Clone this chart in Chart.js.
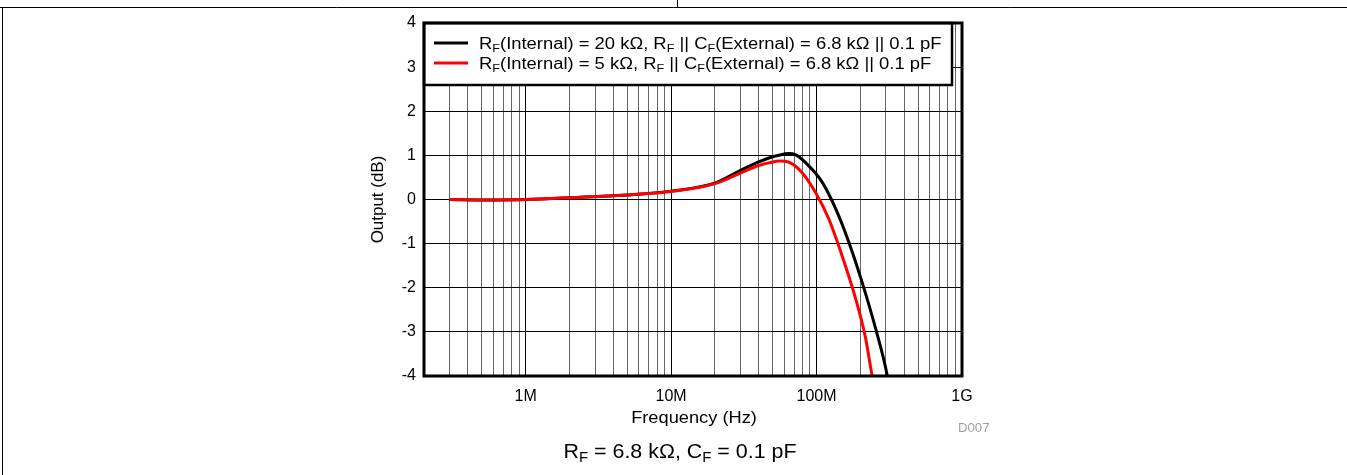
<!DOCTYPE html>
<html lang="en">
<head>
<meta charset="UTF-8">
<script src="https://cdn.jsdelivr.net/npm/chart.js"></script>
<style>
body { margin: 0; background: #fff; }
#wrap { width: 1347px; height: 475px; }
</style>
</head>
<body>
<div id="wrap"><canvas id="chart" width="1347" height="475"></canvas></div>
<script>
// values (frequency in Hz, output in dB)
const freq20k = [3e5, 5.5e5, 1e6, 2e6, 6e6, 1e7, 2e7, 3e7, 4e7, 4.7e7, 5.6e7, 6.4e7, 7.2e7, 8.8e7, 1.09e8, 1.35e8, 1.66e8, 2.05e8, 2.54e8, 3.05e8, 3.1e8];
const db20k   = [0.00, -0.01, 0.00, 0.04, 0.12, 0.19, 0.37, 0.66, 0.85, 0.94, 1.01, 1.04, 1.01, 0.77, 0.40, -0.20, -0.95, -1.86, -2.91, -3.96, -4.1];
const freq5k  = [3e5, 5.5e5, 1e6, 2e6, 6e6, 1e7, 2e7, 3e7, 4e7, 4.7e7, 5.6e7, 6.4e7, 7.9e7, 9.8e7, 1.21e8, 1.49e8, 1.85e8, 2.17e8, 2.4e8, 2.45e8];
const db5k    = [0.00, -0.01, 0.00, 0.04, 0.12, 0.18, 0.36, 0.60, 0.77, 0.83, 0.87, 0.85, 0.62, 0.17, -0.43, -1.25, -2.23, -3.13, -3.96, -4.1];

const decadeValues = [1e6, 1e7, 1e8, 1e9];
const xTickLabels = ['1M', '10M', '100M', '1G'];
const yTicks = [-4, -3, -2, -1, 0, 1, 2, 3, 4];

const legendRows = [
    { color: '#000000', parts: [['R'], ['F', 1], ['(Internal) = 20 k\u03A9, R'], ['F', 1], [' || C'], ['F', 1], ['(External) = 6.8 k\u03A9 || 0.1 pF']] },
    { color: '#ff0000', parts: [['R'], ['F', 1], ['(Internal) = 5 k\u03A9, R'], ['F', 1], [' || C'], ['F', 1], ['(External) = 6.8 k\u03A9 || 0.1 pF']] }
];
const caption = [['R'], ['F', 1], [' = 6.8 k\u03A9, C'], ['F', 1], [' = 0.1 pF']];

const FONT = '"Liberation Sans", Arial, sans-serif';

function toPoints(xs, ys) {
    return xs.map((x, i) => ({ x: x, y: ys[i] }));
}

// text with subscripts, drawn left to right, sx stretches it sideways
function richWidth(ctx, parts, size, subSize) {
    let w = 0;
    parts.forEach(p => {
        ctx.font = (p[1] ? subSize : size) + 'px ' + FONT;
        w += ctx.measureText(p[0]).width;
    });
    return w;
}
function drawRich(ctx, parts, x, y, size, subSize, subDrop, sx) {
    ctx.save();
    ctx.translate(x, y);
    ctx.scale(sx, 1);
    ctx.textAlign = 'left';
    ctx.textBaseline = 'alphabetic';
    let cx = 0;
    parts.forEach(p => {
        ctx.font = (p[1] ? subSize : size) + 'px ' + FONT;
        ctx.fillText(p[0], cx, p[1] ? subDrop : 0);
        cx += ctx.measureText(p[0]).width;
    });
    ctx.restore();
}

const decor = {
    id: 'decor',
    beforeDraw(chart) {
        const ctx = chart.ctx;
        ctx.save();
        ctx.fillStyle = '#fff';
        ctx.fillRect(0, 0, chart.width, chart.height);
        // page frame
        ctx.strokeStyle = '#000';
        ctx.lineWidth = 1;
        ctx.beginPath();
        ctx.moveTo(0, 7.5); ctx.lineTo(chart.width, 7.5);
        ctx.moveTo(677.5, 0); ctx.lineTo(677.5, 7);
        ctx.moveTo(2.5, 7); ctx.lineTo(2.5, chart.height);
        ctx.stroke();
        ctx.restore();
    },
    afterDatasetsDraw(chart) {
        const ctx = chart.ctx;
        const a = chart.chartArea;
        ctx.save();
        // legend box inside the plot
        const lx = a.left, ly = a.top, lw = 952 - a.left, lh = 62;
        ctx.fillStyle = '#fff';
        ctx.fillRect(lx, ly, lw, lh);
        ctx.strokeStyle = '#000';
        ctx.lineWidth = 2.5;
        ctx.strokeRect(lx, ly, lw, lh);
        legendRows.forEach((row, i) => {
            const cy = ly + 20 + i * 20;
            ctx.strokeStyle = row.color;
            ctx.lineWidth = 3;
            ctx.beginPath();
            ctx.moveTo(lx + 10, cy);
            ctx.lineTo(lx + 44, cy);
            ctx.stroke();
            ctx.fillStyle = '#000';
            drawRich(ctx, row.parts, lx + 55, cy + 6, 16, 11, 3, 1.15);
        });
        // plot frame
        ctx.strokeStyle = '#000';
        ctx.lineWidth = 3;
        ctx.strokeRect(a.left, a.top, a.right - a.left, a.bottom - a.top);
        ctx.restore();
    },
    afterDraw(chart) {
        const ctx = chart.ctx;
        const a = chart.chartArea;
        ctx.save();
        ctx.fillStyle = '#000';
        ctx.font = '16px ' + FONT;
        ctx.textAlign = 'center';
        ctx.textBaseline = 'alphabetic';
        ctx.save();
        ctx.translate(694, 423);
        ctx.scale(1.14, 1);
        ctx.fillText('Frequency (Hz)', 0, 0);
        ctx.restore();
        ctx.save();
        ctx.translate(383, (a.top + a.bottom) / 2);
        ctx.rotate(-Math.PI / 2);
        ctx.scale(1.06, 1);
        ctx.fillText('Output (dB)', 0, 0);
        ctx.restore();
        // caption under the chart
        const sc = 1.07;
        const w = richWidth(ctx, caption, 20, 14) * sc;
        ctx.fillStyle = '#000';
        drawRich(ctx, caption, 680 - w / 2, 458, 20, 14, 4, sc);
        ctx.fillStyle = '#a0a0a0';
        ctx.save();
        ctx.translate(958, 432);
        ctx.scale(1.1, 1);
        ctx.font = '12px ' + FONT;
        ctx.textAlign = 'left';
        ctx.fillText('D007', 0, 0);
        ctx.restore();
        ctx.restore();
    }
};

function isDecade(v) {
    return decadeValues.some(d => Math.abs(v / d - 1) < 1e-6);
}

new Chart(document.getElementById('chart'), {
    type: 'line',
    data: {
        datasets: [
            {
                label: 'RF(Internal) = 20 k\u03A9',
                data: toPoints(freq20k, db20k),
                borderColor: '#000000',
                borderWidth: 3,
                pointRadius: 0,
                cubicInterpolationMode: 'monotone',
                order: 2
            },
            {
                label: 'RF(Internal) = 5 k\u03A9',
                data: toPoints(freq5k, db5k),
                borderColor: '#ff0000',
                borderWidth: 3,
                pointRadius: 0,
                cubicInterpolationMode: 'monotone',
                order: 1
            }
        ]
    },
    options: {
        responsive: false,
        animation: false,
        layout: { padding: { top: 23, right: 385, left: 0, bottom: 0 } },
        plugins: { legend: { display: false }, tooltip: { enabled: false } },
        scales: {
            x: {
                type: 'logarithmic',
                min: 2e5,
                max: 1e9,
                afterBuildTicks(scale) {
                    const t = [];
                    for (let e = 5; e <= 9; e++) {
                        for (let m = 1; m <= 9; m++) {
                            const v = m * Math.pow(10, e);
                            if (v >= 2e5 && v <= 1e9) t.push({ value: v });
                        }
                    }
                    scale.ticks = t;
                },
                afterFit(scale) { scale.height = 99; },
                ticks: {
                    autoSkip: false,
                    maxRotation: 0,
                    padding: 11,
                    color: '#000',
                    font: { family: FONT, size: 16 },
                    callback(v) {
                        const i = decadeValues.findIndex(d => Math.abs(v / d - 1) < 1e-6);
                        return i >= 0 ? xTickLabels[i] : '';
                    }
                },
                grid: {
                    drawTicks: false,
                    lineWidth: 1,
                    color(c) { return c.tick && isDecade(c.tick.value) ? '#000' : '#666'; }
                },
                border: { display: false }
            },
            y: {
                min: -4,
                max: 4,
                afterBuildTicks(scale) { scale.ticks = yTicks.map(v => ({ value: v })); },
                afterFit(scale) { scale.width = 424; },
                ticks: {
                    padding: 8,
                    color: '#000',
                    font: { family: FONT, size: 16 }
                },
                grid: { drawTicks: false, lineWidth: 1, color: '#000' },
                border: { display: false }
            }
        }
    },
    plugins: [decor]
});
</script>
</body>
</html>
